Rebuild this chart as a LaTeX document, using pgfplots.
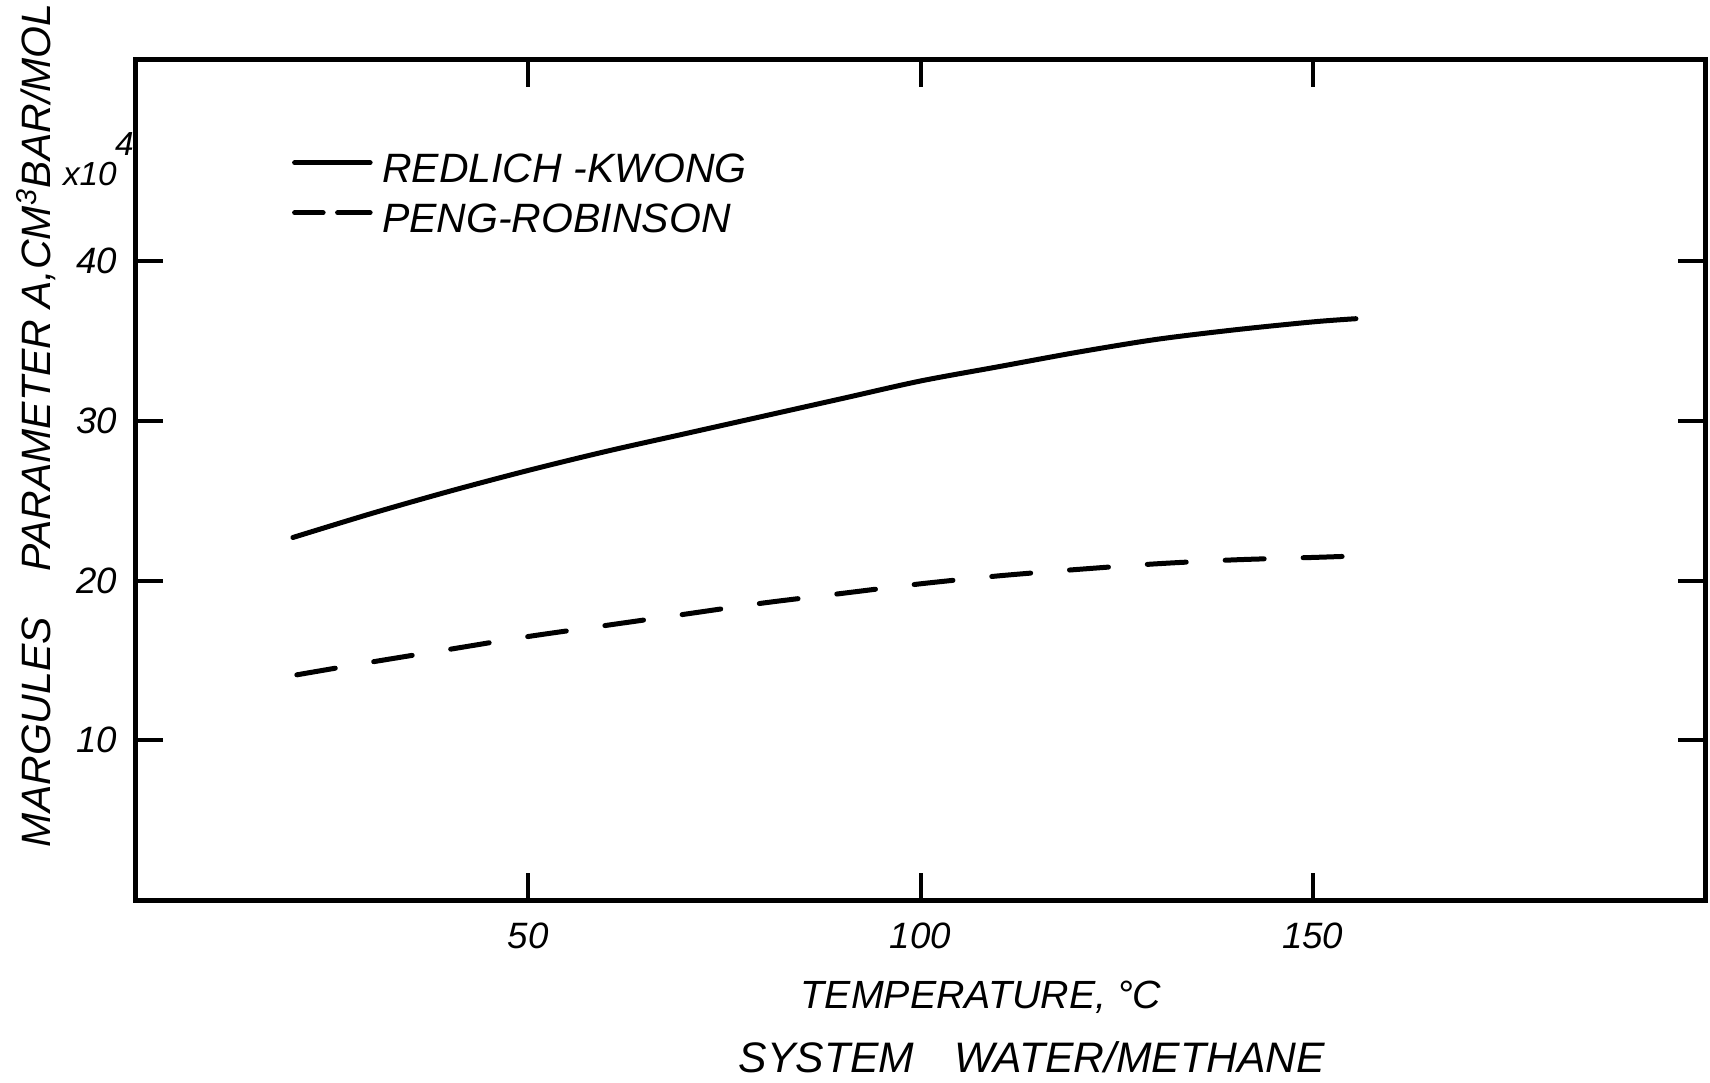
\documentclass[border=0pt]{standalone}
\usepackage{fontspec}
\setmainfont{Liberation Sans}
\usepackage{pgfplots}
\pgfplotsset{compat=1.18}
\begin{document}
\begin{tikzpicture}
\useasboundingbox (-40.8pt,-54.6pt) rectangle (472.2pt,270pt);
\begin{axis}[
  scale only axis, width=470.7pt, height=252pt,
  xmin=0, xmax=200, ymin=0, ymax=52.6,
  clip=false,
  xtick={50,100,150}, ytick={10,20,30,40},
  tick align=inside, major tick length=8pt,
  every tick/.style={black, line width=1.2pt},
  axis line style={line width=1.5pt},
  /pgf/number format/assume math mode=true,
  ticklabel style={font=\fontsize{11}{12}\selectfont\itshape},
  xticklabel style={inner sep=0pt, anchor=north, yshift=-6.8pt},
  yticklabel style={inner sep=0pt, anchor=east, xshift=-5.4pt},
  xlabel={TEMPERATURE, °C},
  every axis x label/.style={at={(rel axis cs:0.5386,0)}, anchor=north, yshift=-24pt, inner sep=0pt, font=\fontsize{11.8}{13}\selectfont\itshape},
  ylabel={MARGULES\hspace{1.1em}PARAMETER A,CM\textsuperscript{3}BAR/MOL},
  every axis y label/.style={at={(rel axis cs:0,0.565)}, xshift=-30pt, rotate=90, anchor=center, inner sep=0pt, font=\fontsize{12.3}{14}\selectfont\itshape},
  legend style={at={(axis cs:19.9,44.6)}, anchor=west, draw=none, fill=none, inner sep=0pt, outer sep=0pt, row sep=0pt, column sep=0pt, nodes={inner sep=0pt}, font=\fontsize{12.3}{14}\selectfont\itshape},
  legend cell align=left,
]
\addplot[black, line width=1.5pt, line cap=round, line join=round, smooth,
  legend image code/.code={\draw[black, line width=1.5pt, line cap=round] (0pt,0pt) -- (22.65pt,0pt); \path (25.5pt,0pt);}]
  coordinates {(20,22.7) (30,24.2) (40,25.6) (50,26.9) (60,28.1) (70,29.2) (80,30.3) (90,31.4) (100,32.5) (110,33.4) (120,34.3) (130,35.1) (140,35.7) (150,36.2) (155.5,36.4)};
\addlegendentry{\rule[-5.5pt]{0pt}{19pt}REDLICH -KWONG}
\addplot[black, line width=1.5pt, line cap=round, line join=round, smooth, dash pattern=on 11.7pt off 11.7pt,
  legend image code/.code={\draw[black, line width=1.5pt, line cap=round, dash pattern=on 8.55pt off 4.35pt on 9.75pt off 20pt] (0pt,0pt) -- (22.65pt,0pt); \path (25.5pt,0pt);}]
  coordinates {(20.5,14.1) (30,14.9) (40,15.7) (50,16.5) (60,17.2) (70,17.9) (80,18.6) (90,19.2) (100,19.8) (110,20.3) (120,20.7) (130,21.05) (140,21.3) (150,21.45) (155.9,21.55)};
\addlegendentry{\rule[-5.5pt]{0pt}{19pt}PENG-ROBINSON}
\node[inner sep=0pt, anchor=base east, xshift=-0.5pt, font=\fontsize{10}{12}\selectfont\itshape] at (rel axis cs:0,0.851) {x10\kern-0.5pt\raisebox{9pt}{4}};
\node[inner sep=0pt, anchor=north, yshift=-42.3pt, font=\fontsize{12.8}{14}\selectfont\itshape] at (rel axis cs:0.571,0) {SYSTEM\hspace{12pt}WATER/METHANE};
\end{axis}
\end{tikzpicture}
\end{document}
